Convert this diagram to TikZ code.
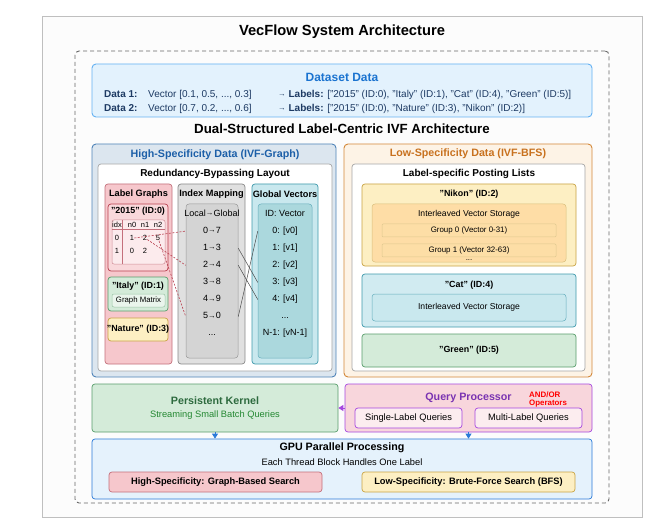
\documentclass[tikz,border=0pt]{standalone}
\usepackage{fontspec}
\setmainfont{Liberation Sans}
\usepackage{xcolor}
\usetikzlibrary{arrows.meta,positioning}

\definecolor{dsfill}{HTML}{E3F2FD}
\definecolor{dsline}{HTML}{64B1F2}
\definecolor{dsblue}{HTML}{1A73D0}
\definecolor{navy}{HTML}{1D3A63}
\definecolor{hsfill}{HTML}{DCE6EF}
\definecolor{hsline}{HTML}{4F83B8}
\definecolor{hsblue}{HTML}{1C5FA8}
\definecolor{pinkfill}{HTML}{F6C7CC}
\definecolor{pinkline}{HTML}{C4707C}
\definecolor{redline}{HTML}{B8404F}
\definecolor{grayfill}{HTML}{E0E0E0}
\definecolor{grayline}{HTML}{8A8A8A}
\definecolor{tealfill}{HTML}{C9E8EE}
\definecolor{tealline}{HTML}{3F9AAC}
\definecolor{greenfill}{HTML}{D4EBD9}
\definecolor{greenline}{HTML}{5A9E6C}
\definecolor{greentext}{HTML}{2D6A3E}
\definecolor{yellowfill}{HTML}{FDEFC3}
\definecolor{yellowline}{HTML}{C9A444}
\definecolor{lsfill}{HTML}{FDF3E6}
\definecolor{lsline}{HTML}{D3883A}
\definecolor{lsorange}{HTML}{C8711E}
\definecolor{qpfill}{HTML}{F8D6DC}
\definecolor{qpline}{HTML}{A647E0}
\definecolor{qppurple}{HTML}{7A33B2}
\definecolor{gpufill}{HTML}{E5F2FC}
\definecolor{gpuline}{HTML}{2A7AD8}

\newcommand{\larr}{\raisebox{0.7pt}{\fontsize{7.6}{8}\selectfont →}}

\begin{document}
\begin{tikzpicture}[x=1pt, y=-1pt, node distance=8.2pt,
    box/.style={draw, rounded corners=3pt, inner sep=0pt, line width=0.7pt},
    panel/.style={box, rounded corners=4pt, line width=0.9pt},
    mapline/.style={draw=black!70, line width=0.5pt},
    reflink/.style={draw=redline, line width=0.6pt, dash pattern=on 2pt off 1.5pt},
    arrowtip/.style={line width=0.8pt, -{Triangle[length=5pt, width=6pt]}}]
    \tikzstyle{h1} = [font=\bfseries\fontsize{14.7}{17}\selectfont, inner sep=0pt]
    \tikzstyle{h2} = [font=\bfseries\fontsize{13.3}{15}\selectfont, inner sep=0pt]
    \tikzstyle{ptitle} = [font=\bfseries\fontsize{10.7}{12}\selectfont, inner sep=0pt]
    \tikzstyle{stitle} = [font=\bfseries\fontsize{10}{12}\selectfont, inner sep=0pt]
    \tikzstyle{ctitle} = [font=\bfseries\fontsize{9.2}{11}\selectfont, inner sep=0pt]
    \tikzstyle{btitle} = [font=\bfseries\fontsize{8.9}{10}\selectfont, inner sep=0pt]
    \tikzstyle{txt} = [font=\fontsize{8.6}{10}\selectfont, inner sep=0pt]
    \tikzstyle{note} = [font=\fontsize{9.3}{11}\selectfont, inner sep=0pt]
    \tikzstyle{smalltxt} = [font=\fontsize{7.8}{9}\selectfont, inner sep=0pt]
    \tikzstyle{cell} = [font=\fontsize{7.5}{9}\selectfont, inner sep=0pt]
    \tikzstyle{ent} = [font=\fontsize{9}{10}\selectfont, inner sep=0pt, text height=6.5pt, text depth=2pt]
    \tikzstyle{dl} = [font=\bfseries\fontsize{10}{12}\selectfont, text=navy, inner sep=0pt, anchor=base west]
    \tikzstyle{dt} = [font=\fontsize{10}{12}\selectfont, text=navy, inner sep=0pt, anchor=base west]

    \useasboundingbox (0,0) rectangle (660,526);
    \node[box, draw=black!25, fill=black!1, rounded corners=0pt, line width=1pt, minimum width=600, minimum height=500] (frame) at (342,267) {};
    \node[h1] (title) at (342,32) {VecFlow System Architecture};
    \node[box, draw=black!60, dash pattern=on 4pt off 3pt, line width=0.9pt, rounded corners=4pt, minimum width=534, minimum height=452] (arch) at (342,277) {};

    \node[panel, draw=dsline, fill=dsfill, minimum width=500, minimum height=53] (data) at (342,90.5) {};
    \node[font=\bfseries\fontsize{12}{14}\selectfont, text=dsblue, inner sep=0pt] (dtitle) at (342,77) {Dataset Data};
    \node[dl] (d1) at (104,97.6) {Data 1:};
    \node[dt] (v1) at (148,97.6) {Vector [0.1, 0.5, ..., 0.3]};
    \node[dt] (l1) at (278,97.6) {\larr{} \textbf{Labels:} ["2015" (ID:0), "Italy" (ID:1), "Cat" (ID:4), "Green" (ID:5)]};
    \node[dl] (d2) at (104,111.6) {Data 2:};
    \node[dt] (v2) at (148,111.6) {Vector [0.7, 0.2, ..., 0.6]};
    \node[dt] (l2) at (278,111.6) {\larr{} \textbf{Labels:} ["2015" (ID:0), "Nature" (ID:3), "Nikon" (ID:2)]};
    \node[h2] (dual) at (342,129) {Dual-Structured Label-Centric IVF Architecture};

    \node[panel, draw=hsline, fill=hsfill, minimum width=244, minimum height=233] (hs) at (214,260.5) {};
    \node[ptitle, text=hsblue] (hstitle) at (215,155) {High-Specificity Data (IVF-Graph)};
    \node[box, draw=black!35, fill=white, minimum width=234, minimum height=207] (hsin) at (215,267.5) {};
    \node[stitle] (rbl) at (215,174) {Redundancy-Bypassing Layout};

    \node[box, draw=pinkline, fill=pinkfill, minimum width=67, minimum height=180] (lg) at (138.5,274) {};
    \node[ctitle] (lgtitle) at (138.5,194) {Label Graphs};
    \node[box, draw=grayline, fill=grayfill, minimum width=67, minimum height=180] (im) at (211.5,274) {};
    \node[ctitle] (imtitle) at (211.5,194) {Index Mapping};
    \node[box, draw=tealline, fill=tealfill, minimum width=66, minimum height=180] (gv) at (285,274) {};
    \node[ctitle] (gvtitle) at (285,194) {Global Vectors};

    \node[box, draw=redline, fill=pinkfill!70, minimum width=60, minimum height=67] (y2015) at (138,237.5) {};
    \node[btitle] (y2015title) at (138,211) {"2015" (ID:0)};
    \node[box, draw=pinkline!80, fill=pinkfill!35, rounded corners=2pt, line width=0.5pt, minimum width=53, minimum height=44] (tbl) at (138.5,242) {};
    \draw[pinkline, line width=0.5pt] (tbl.north -| 122,0) -- (tbl.south -| 122,0);
    \draw[pinkline, line width=0.5pt] (tbl.west |- 0,229) -- (tbl.east |- 0,229);
    \node[cell] (th0) at (117,225) {idx};
    \node[cell] (th1) at (132,225) {n0};
    \node[cell] (th2) at (145,225) {n1};
    \node[cell] (th3) at (158,225) {n2};
    \node[cell] (t00) at (117,238) {0};
    \node[cell] (t01) at (132,238) {1};
    \node[cell] (t02) at (145,238) {2};
    \node[cell] (t03) at (158,238) {5};
    \node[cell] (t10) at (117,251) {1};
    \node[cell] (t11) at (132,251) {0};
    \node[cell] (t12) at (145,251) {2};

    \node[box, draw=greenline, fill=greenfill, minimum width=60, minimum height=34] (italy) at (138,294) {};
    \node[btitle] (italytitle) at (138,286.5) {"Italy" (ID:1)};
    \node[box, draw=greenline!60, fill=greenfill!50, rounded corners=2pt, line width=0.5pt, minimum width=53, minimum height=13] (gm) at (138.5,300.5) {};
    \node[smalltxt] (gmtext) at (138.5,300.5) {Graph Matrix};
    \node[box, draw=yellowline, fill=yellowfill, minimum width=60, minimum height=23] (nature) at (138,329.5) {};
    \node[btitle] (naturetitle) at (138,329.5) {"Nature" (ID:3)};

    \node[box, draw=black!40, fill=black!17, line width=0.5pt, minimum width=52, minimum height=154] (imbox) at (212,281) {};
    \node[ent] (mh) at (212,214) {Local\larr{}Global};
    \node[ent, below=of mh] (m0) {0\larr{}7};
    \node[ent, below=of m0] (m1) {1\larr{}3};
    \node[ent, below=of m1] (m2) {2\larr{}4};
    \node[ent, below=of m2] (m3) {3\larr{}8};
    \node[ent, below=of m3] (m4) {4\larr{}9};
    \node[ent, below=of m4] (m5) {5\larr{}0};
    \node[ent, below=of m5] (mdots) {...};

    \node[box, draw=tealline!80, fill=tealfill!85!teal, line width=0.5pt, minimum width=54, minimum height=154] (gvbox) at (285,281) {};
    \node[ent] (gh) at (285,214) {ID: Vector};
    \node[ent, below=of gh] (g0) {0: [v0]};
    \node[ent, below=of g0] (g1) {1: [v1]};
    \node[ent, below=of g1] (g2) {2: [v2]};
    \node[ent, below=of g2] (g3) {3: [v3]};
    \node[ent, below=of g3] (g4) {4: [v4]};
    \node[ent, below=of g4] (gdots) {...};
    \node[ent, below=of gdots] (gn) {N-1: [vN-1]};

    \draw[mapline] (m1 -| imbox.east) -- (g3 -| gvbox.west);
    \draw[mapline] (m2 -| imbox.east) -- (g4 -| gvbox.west);
    \draw[mapline] (m5 -| imbox.east) -- (g0 -| gvbox.west);
    \draw[reflink] (t01.east) -- (m0 -| imbox.west);
    \draw[reflink] (t02) -- (m2 -| imbox.west);
    \draw[reflink] (t03) -- (m5 -| imbox.west);

    \node[panel, draw=lsline, fill=lsfill, minimum width=248, minimum height=233] (ls) at (468,260.5) {};
    \node[ptitle, text=lsorange] (lstitle) at (468,154) {Low-Specificity Data (IVF-BFS)};
    \node[box, draw=black!35, fill=white, minimum width=233, minimum height=207] (lsin) at (468.5,267.5) {};
    \node[stitle] (lpl) at (469,174) {Label-specific Posting Lists};

    \node[box, draw=yellowline, fill=yellowfill, minimum width=214, minimum height=82] (nikon) at (469,225) {};
    \node[btitle] (nikontitle) at (469,194) {"Nikon" (ID:2)};
    \node[box, draw=yellowline!70, fill=yellowfill!80!orange!90, line width=0.5pt, minimum width=194, minimum height=58] (ivs) at (469,233) {};
    \node[txt] (ivstext) at (469,214) {Interleaved Vector Storage};
    \node[box, draw=yellowline!60, fill=yellowfill!85!orange, rounded corners=1pt, line width=0.5pt, minimum width=174, minimum height=13, font=\fontsize{7.9}{9}\selectfont] (grp0) at (469,230.5) {Group 0 (Vector 0-31)};
    \node[box, draw=yellowline!60, fill=yellowfill!85!orange, rounded corners=1pt, line width=0.5pt, minimum width=174, minimum height=13, font=\fontsize{7.9}{9}\selectfont] (grp1) at (469,250.5) {Group 1 (Vector 32-63)};
    \node[smalltxt] (grpdots) at (469,260.5) {...};

    \node[box, draw=tealline, fill=tealfill!85, minimum width=214, minimum height=53] (cat) at (469,300.5) {};
    \node[btitle] (cattitle) at (469,285) {"Cat" (ID:4)};
    \node[box, draw=tealline!80, fill=tealfill, line width=0.5pt, minimum width=194, minimum height=27] (cativs) at (469,307.5) {};
    \node[txt] (cativstext) at (469,307.5) {Interleaved Vector Storage};
    \node[box, draw=greenline, fill=greenfill, minimum width=214, minimum height=33] (green) at (469,350.5) {};
    \node[btitle] (greentitle) at (469,350.5) {"Green" (ID:5)};

    \node[box, draw=greenline, fill=greenfill, minimum width=246, minimum height=48] (pk) at (215,408) {};
    \node[ptitle, text=greentext] (pktitle) at (215,401) {Persistent Kernel};
    \node[note, text=greentext!80!green] (pktext) at (215,415) {Streaming Small Batch Queries};

    \node[box, draw=qpline, fill=qpfill, minimum width=247, minimum height=48] (qp) at (468.5,408) {};
    \node[ptitle, text=qppurple] (qptitle) at (468.5,398) {Query Processor};
    \node[font=\bfseries\fontsize{7.9}{8.6}\selectfont, text=red, inner sep=0pt, align=left, anchor=west] (ops) at (529,399.5) {AND/OR\\Operators};
    \node[box, draw=qpline, fill=qpfill!45, minimum width=107, minimum height=20] (single) at (408.5,418) {};
    \node[note] (singletext) at (408.5,418) {Single-Label Queries};
    \node[box, draw=qpline, fill=qpfill!45, minimum width=107, minimum height=20] (multi) at (528.5,418) {};
    \node[note] (multitext) at (528.5,418) {Multi-Label Queries};

    \node[box, draw=gpuline, fill=gpufill, minimum width=500, minimum height=60] (gpu) at (342,469) {};
    \node[ptitle] (gputitle) at (342,448) {GPU Parallel Processing};
    \node[note] (gputext) at (342,462) {Each Thread Block Handles One Label};
    \node[box, draw=pinkline, fill=pinkfill, minimum width=213, minimum height=20, font=\bfseries\fontsize{9.3}{11}\selectfont] (hi) at (215.5,482) {High-Specificity: Graph-Based Search};
    \node[box, draw=yellowline, fill=yellowfill, minimum width=213, minimum height=20, font=\bfseries\fontsize{9.3}{11}\selectfont] (lo) at (468.5,482) {Low-Specificity: Brute-Force Search (BFS)};

    \draw[arrowtip, qpline] (qp.west) -- (pk.east);
    \draw[arrowtip, gpuline] (pk.south) -- (gpu.north -| pk.south);
    \draw[arrowtip, gpuline] (qp.south) -- (gpu.north -| qp.south);
\end{tikzpicture}
\end{document}
